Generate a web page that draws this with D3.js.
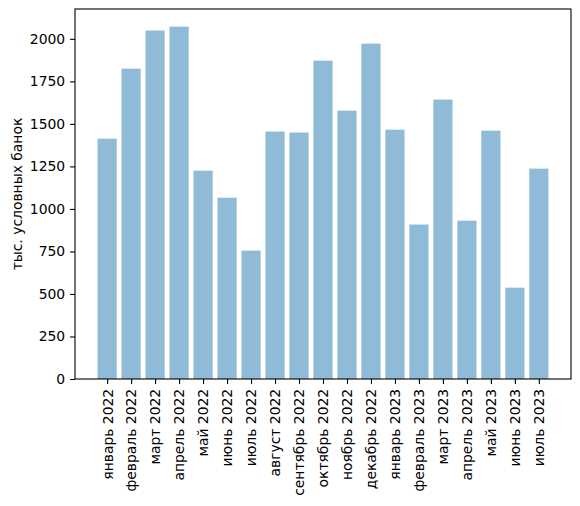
<!DOCTYPE html>
<html>
<head>
<meta charset="utf-8">
<script src="https://cdn.jsdelivr.net/npm/d3@7"></script>
<style>
  body { margin: 0; background: #fff; }
  svg text { font-family: "DejaVu Sans", sans-serif; fill: #000; }
</style>
</head>
<body>
<svg id="chart"></svg>
<script>
const months = ["январь 2022", "февраль 2022", "март 2022", "апрель 2022", "май 2022",
  "июнь 2022", "июль 2022", "август 2022", "сентябрь 2022", "октябрь 2022",
  "ноябрь 2022", "декабрь 2022", "январь 2023", "февраль 2023", "март 2023",
  "апрель 2023", "май 2023", "июнь 2023", "июль 2023"];
const values = [1413, 1825, 2049, 2072, 1225, 1066, 755, 1455, 1449, 1872,
  1578, 1972, 1466, 908, 1643, 931, 1460, 537, 1237];
const yTicks = [0, 250, 500, 750, 1000, 1250, 1500, 1750, 2000];
const yLabel = "тыс. условных банок";

const W = 580, H = 506;
const margin = { top: 9, right: 9, bottom: 127, left: 75 };
const w = W - margin.left - margin.right;
const h = H - margin.top - margin.bottom;

const svg = d3.select("#chart").attr("width", W).attr("height", H);
const g = svg.append("g").attr("transform", `translate(${margin.left},${margin.top})`);

// matplotlib-like limits: bars of width 0.8, 5% margins
const n = months.length;
const x0 = -0.4, x1 = n - 1 + 0.4, pad = (x1 - x0) * 0.05;
const xScale = d3.scaleLinear().domain([x0 - pad, x1 + pad]).range([0, w]);
const yScale = d3.scaleLinear().domain([0, d3.max(values) * 1.05]).range([h, 0]);

g.selectAll(".bar")
  .data(values)
  .enter()
  .append("rect")
  .attr("class", "bar")
  .attr("x", (d, i) => xScale(i - 0.4))
  .attr("width", xScale(0.8) - xScale(0))
  .attr("y", d => yScale(d))
  .attr("height", d => yScale(0) - yScale(d))
  .attr("fill", "#1f77b4")
  .attr("fill-opacity", 0.5);

// y axis
const yAxis = g.append("g")
  .call(d3.axisLeft(yScale).tickValues(yTicks).tickFormat(d3.format("d"))
    .tickSize(4.9).tickPadding(4.9).tickSizeOuter(0));
yAxis.selectAll("text").style("font-size", "13.9px");
yAxis.selectAll("line").attr("stroke-width", 1.1);
yAxis.select(".domain").remove();

// x axis
const xAxis = g.append("g")
  .attr("transform", `translate(0,${h})`)
  .call(d3.axisBottom(xScale).tickValues(d3.range(n)).tickFormat(i => months[i])
    .tickSize(4.9).tickSizeOuter(0));
xAxis.select(".domain").remove();
xAxis.selectAll("line").attr("stroke-width", 1.1);
xAxis.selectAll("text")
  .style("font-size", "13.9px")
  .attr("text-anchor", "end")
  .attr("dy", "0.35em")
  .attr("transform", "translate(0,9.8) rotate(-90)")
  .attr("x", 0)
  .attr("y", 0);

// frame
g.append("rect")
  .attr("width", w).attr("height", h)
  .attr("fill", "none")
  .attr("stroke", "#000")
  .attr("stroke-width", 1.1);

// y label
svg.append("text")
  .attr("transform", `translate(22,${margin.top + h / 2}) rotate(-90)`)
  .attr("text-anchor", "middle")
  .style("font-size", "13.9px")
  .text(yLabel);
</script>
</body>
</html>
